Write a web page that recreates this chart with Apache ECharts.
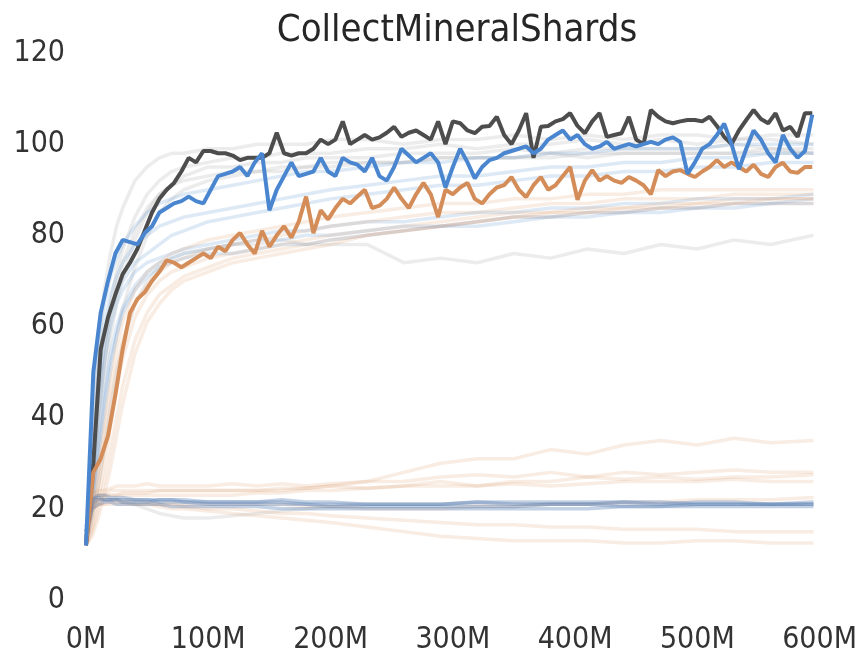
<!DOCTYPE html>
<html>
<head>
<meta charset="utf-8">
<script src="https://cdn.jsdelivr.net/npm/echarts@6/dist/echarts.min.js"></script>
<style>
  html, body { margin: 0; padding: 0; background: #fff; }
  #main { width: 860px; height: 657px; }
</style>
</head>
<body>
<div id="main"></div>
<script>
// x positions (M steps) of the three highlighted runs
var boldX = [0,6,12,18,24,30,36,42,48,54,60,66,72,78,84,90,96,102,108,114,
  120,126,132,138,144,150,156,162,168,174,180,186,192,198,204,210,216,222,228,234,
  240,246,252,258,264,270,276,282,288,294,300,306,312,318,324,330,336,342,348,354,
  360,366,372,378,384,390,396,402,408,414,420,426,432,438,444,450,456,462,468,474,
  480,486,492,498,504,510,516,522,528,534,540,546,552,558,564,570,576,582,588,594];

var grayBold = [12,30,55,62,67,71.5,74,77,81,85,88,90,91.5,94,97,96,98.5,98.5,98,98,
  97.5,96.5,97,97,97,98,102.5,98,97.5,98,98,99,101,100,101,105,100,101,102,101,
  101.5,102.5,103.8,101.6,102.5,103,102,101,105,100,105,104.6,103,102.4,103.8,104,106,102,100,103,
  106.8,97,103.8,104,105,105.5,106.8,104,102.4,105,106.8,101.6,102,102.4,106,101,100,107.5,106,105,
  104.6,105,105.3,105.3,105,106,104,101.6,100,103,105.3,107.5,105.5,104.6,106.8,103,103.8,101.6,106.8,106.8];

var blueBold = [12,50,63,70,76,79,78.5,78,80.5,82,85,86,87,87.5,88.5,87.5,87,90,93,93.5,
  94,95,93,96,98,85.5,90,93,96,93,93.5,94,97,94,93,97,96,95.5,94,97,
  93,92,95,99,97.5,96,97,98,96,90.5,95,99,96,92.5,95,96.5,97,98,98.5,99,
  99.5,98,99,101,102,103,101,102,100,99,99.5,100.5,99,99.5,100,99.5,100,100.5,100,101,
  101.5,100.5,93.5,96,99,100,102,104.5,100,94.5,99,103,101,98,96,102,99,97,98.5,106.5];

var orangeBold = [12,28,31,36,45,55,63,66,67.5,70,72,74.5,74,73,74,75,76,75,77.5,76.5,
  79,80.5,78,76,81,77.5,80,82,79.5,83,88.5,80.5,85.5,83.5,86,88,87,88.5,90,86,
  86.5,88,90.5,88,86,89,91.5,89,84,90,89,90.5,91.5,88,87,89,90.5,91,92.8,90,
  88.4,91,92.8,90,91,93,95,87.8,92,94.3,92,93,92,91.5,92.8,92,91,89,94.3,93,
  94,94.3,93.5,92.8,94,95,96.5,95,96,95,94,95.5,93.5,92.8,95,95.9,94,93.7,95,95];

// x positions (M steps) of the faint background runs
var faintX = [0,5,10,15,20,25,30,40,50,60,70,80,100,120,140,160,180,200,230,260,
  290,320,350,380,410,440,470,500,530,560,595];

// upper group, gray
var fg1 = [12,35,55,68,76,82,86,92,95,97,98,98,99,99,100,100,100,101,101,100,101,101,102,101,102,101,102,102,101,102,102];
var fg2 = [12,25,42,55,65,72,77,84,89,92,94,95,96,97,97,98,98,98,99,99,100,99,100,100,101,100,101,100,101,101,100];
var fg3 = [12,22,35,48,58,65,71,79,85,89,91,93,95,95,96,96,97,97,97,98,98,98,99,98,99,99,99,99,100,99,99];
var fg4 = [12,20,30,40,50,58,64,73,80,85,88,90,92,93,94,94,95,95,96,96,97,97,97,98,97,98,98,98,98,99,98];
var fg5 = [12,18,25,33,42,50,56,65,70,73,75,76,77,78,78,79,78,78,78,74,75,74,76,75,77,76,78,77,79,78,80];
var fg6 = [12,24,40,52,62,69,74,81,86,89,91,92,93,94,94,95,95,96,96,96,97,97,97,97,98,98,98,98,98,98,98];
// upper group, blue
var fb1 = [12,22,34,45,54,60,64,69,72,74,75,76,77,78,79,79,80,80,81,82,82,83,84,84,85,85,86,86,87,87,88];
var fb2 = [12,25,40,52,60,65,68,72,74,75,76,77,78,79,80,81,81,82,83,83,84,85,85,86,86,87,87,88,88,88,89];
var fb3 = [12,30,48,60,67,71,74,78,80,82,83,84,85,86,87,88,89,90,91,92,93,93,94,95,95,96,96,97,97,98,98];
var fb4 = [12,20,32,43,52,58,63,68,71,73,74,75,76,76,77,78,78,79,80,81,82,82,83,84,84,85,85,86,86,87,87];
var fb5 = [12,35,55,65,71,75,78,82,85,87,88,89,90,91,92,93,94,94,95,96,96,97,97,98,98,99,99,99,100,100,100];
var fb6 = [12,28,45,56,63,67,70,74,76,78,80,81,83,84,85,86,87,88,89,90,91,91,92,93,93,94,94,95,95,96,96];
// upper group, orange
var fo1 = [12,16,22,30,38,46,53,62,67,70,72,73,75,76,77,78,79,80,81,82,83,84,85,85,86,86,87,87,88,88,88];
var fo2 = [12,15,20,26,33,40,47,57,63,67,69,71,73,75,76,77,78,79,80,81,82,83,84,85,85,86,86,87,87,88,88];
var fo3 = [12,18,25,34,43,51,57,65,69,72,74,75,77,78,79,80,81,82,83,84,85,85,86,87,87,88,88,88,89,89,89];
var fo4 = [12,14,18,23,29,36,43,54,61,65,68,70,72,74,75,76,77,78,80,81,82,83,84,84,85,85,86,86,87,87,87];
var fo5 = [12,20,28,38,47,55,61,68,72,74,76,77,79,80,81,82,83,84,85,86,87,87,88,88,89,89,90,90,90,90,90];
// lower group, blue
var lb1 = [15,21,22,22,22,22,22,22,22,21.5,21.5,21.5,21,21,21,21,21,20.5,20.5,20.5,20.5,20.5,20.5,21,21,20.5,20.5,21,21,21,21];
var lb2 = [16,22,23,23,22.5,22.5,22.5,22,22,22,22,22,21.5,21.5,21.5,21.5,21,21,21,21,21,21.5,21.5,21.5,21.5,21.5,21.5,21,21,21,21.5];
var lb3 = [14,20,21,21.5,21.5,21,21,21,21,21,20.5,20.5,20.5,20.5,20.5,20,20,20,20,20,20,20,20,20,20,20.5,20.5,20.5,20.5,20.5,20.5];
var lb4 = [15,22,22.5,22,22,22,21.5,21.5,21.5,22,22,21.5,21.5,21.5,21.5,22,21.5,21.5,21,21,21,21.5,21,21,21,21.5,21,21.5,21.5,21,21];
// lower group, orange
var lo1 = [15,22,23,23,24,24,24,24,24,24,24,24,24,24,24,24,24.5,25,26,28,30,31,31,33,32,34,35,34,35.5,34.5,35];
var lo2 = [15,23,24,24,24.5,25,25,25,25.5,25,25,25,25,25.5,25,25.5,25,25.5,26,26,27,27.5,27,28,27,28,27.5,28,28.5,28,28];
var lo3 = [14,21,22,22.5,23,23,23,23,23,23,23,23,23,23,23.5,23.5,24,24,24.5,25,26,25,26,26,27,26.5,27,26.5,27,27,27.5];
var lo4 = [14,21,22,22,22,22,22,22,21.5,21,21,20.5,20,20,19.5,19,19,18.5,18,17.5,17,16.5,16.5,16,16,15.5,15.5,15.5,15,15,15];
var lo5 = [14,20,21,21,21,21,21,21,21,20.5,20,20,19.5,19,18.5,18,17.5,17,16,15,14,13.5,13,13,13,12.5,12.5,13,13,12.5,12.5];
var lo6 = [15,22,23,23,23,23,23.5,23.5,23.5,24,24,24,24,24,24,24.5,24.5,25,24.5,25,25,25,25.5,25,25.5,26,26,26,26.5,26,26];
var lo7 = [14,20,21,21,21.5,21.5,21.5,21,21,21,21,21,21,21,21,21,20.5,20.5,20,20,20,20.5,20.5,21,21,21.5,21.5,22,22,22,22.5];
// lower group, gray
var lg1 = [15,21,22,22,22,22,21.5,21,20,19,18.5,18,18,18.5,19,19.5,20,20.5,21,21,21,21,21,21,21,21,21,21,21,21,21];

var xTicks = [0, 100, 200, 300, 400, 500, 600];
var yTicks = [0, 20, 40, 60, 80, 100, 120];

var GRAY = '#4d4d4d', BLUE = '#4a86cf', ORANGE = '#d48d58';

function pairs(xs, ys) {
  return xs.map(function (x, i) { return [x, ys[i]]; });
}

var series = [];
function faint(ys, color, op) {
  series.push({
    type: 'line', data: pairs(faintX, ys), showSymbol: false, silent: true,
    lineStyle: { color: color, width: 3.5, opacity: op }
  });
}
[fg1, fg2, fg3, fg4, fg5, fg6, lg1].forEach(function (d) { faint(d, '#a0a0a0', 0.2); });
[fb1, fb2, fb3, fb4, fb5, fb6].forEach(function (d) { faint(d, BLUE, 0.18); });
[fo1, fo2, fo3, fo4, fo5, lo1, lo2, lo3, lo4, lo5, lo6, lo7].forEach(function (d) { faint(d, ORANGE, 0.17); });
[lb1, lb2, lb3, lb4].forEach(function (d) { faint(d, '#5a7fb5', 0.36); });

function bold(ys, color) {
  series.push({
    type: 'line', data: pairs(boldX, ys), showSymbol: false, silent: true,
    lineStyle: { color: color, width: 4 }
  });
}
bold(grayBold, GRAY);
bold(orangeBold, ORANGE);
bold(blueBold, BLUE);

var font = "'DejaVu Sans Condensed', 'Liberation Sans Narrow', 'DejaVu Sans'";
var chart = echarts.init(document.getElementById('main'));
chart.setOption({
  animation: false,
  title: {
    text: 'CollectMineralShards', left: 452, top: 7, textAlign: 'center',
    textStyle: { fontFamily: font, fontSize: 38, fontWeight: 'normal', color: '#262626' }
  },
  grid: { left: 86, right: 37, top: 53, bottom: 57, containLabel: false },
  xAxis: {
    type: 'value', min: xTicks[0], max: xTicks[xTicks.length - 1], interval: 100,
    axisLine: { show: false }, axisTick: { show: false }, splitLine: { show: false },
    axisLabel: { formatter: '{value}M', fontFamily: font, fontSize: 30, color: '#333', margin: 25 }
  },
  yAxis: {
    type: 'value', min: yTicks[0], max: yTicks[yTicks.length - 1], interval: 20,
    axisLine: { show: false }, axisTick: { show: false }, splitLine: { show: false },
    axisLabel: { fontFamily: font, fontSize: 30, color: '#333', margin: 21 }
  },
  series: series
});
</script>
</body>
</html>
